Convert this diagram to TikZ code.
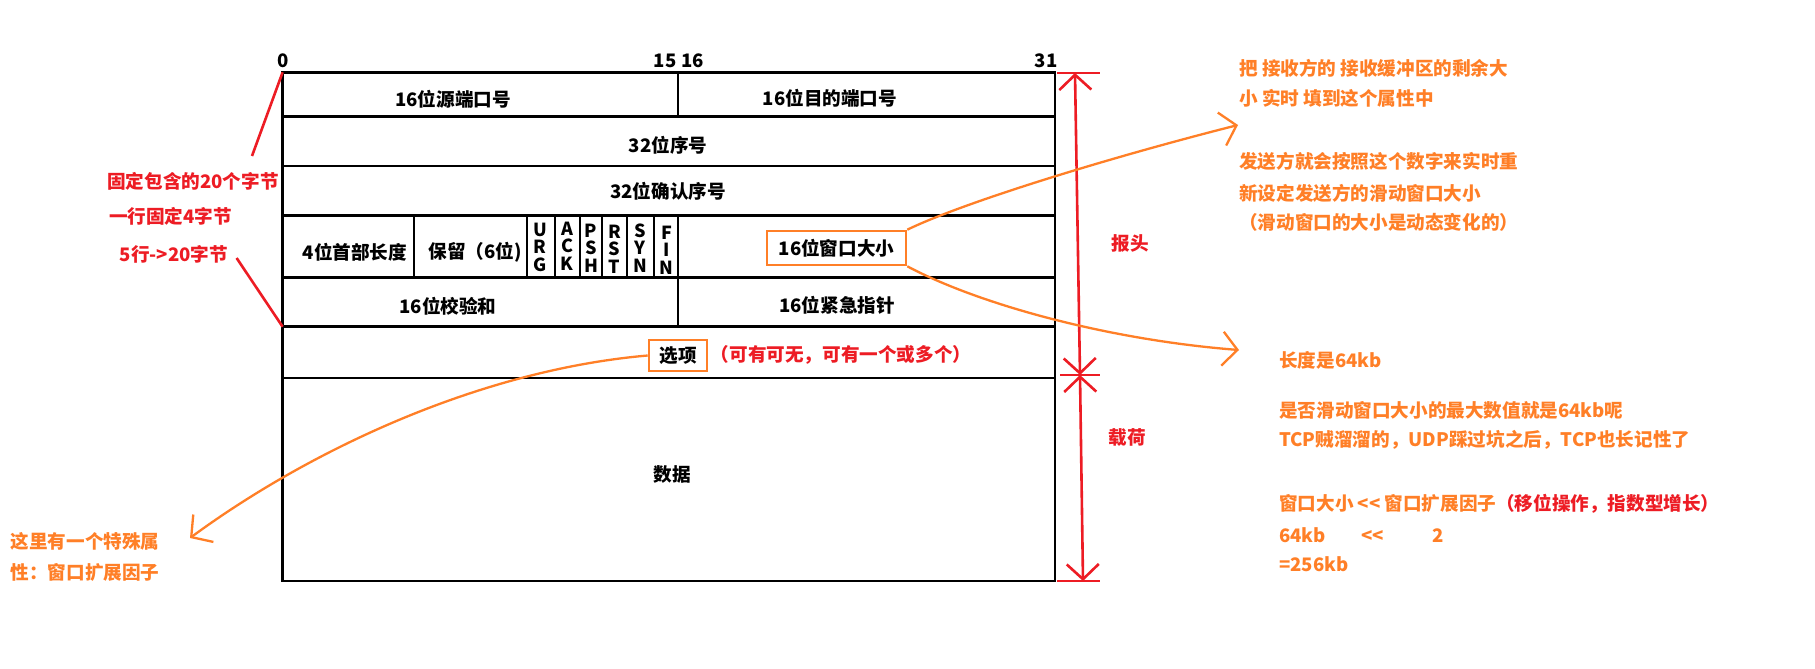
\documentclass[tikz,border=0pt]{standalone}
\usepackage{fontspec}
\setmainfont{Noto Sans CJK SC}
\usetikzlibrary{arrows.meta}
\definecolor{pred}{HTML}{ED1C24}
\definecolor{porange}{HTML}{FF7F27}
\newcommand\myfs{\fontsize{18.6}{22}\selectfont}
\newcommand\myflagfs{\fontsize{18}{17.5}\selectfont}
\begin{document}
\begin{tikzpicture}[x=1pt,y=-1pt,
  tline/.style={line width=2.6pt, black},
  txt/.style={font=\myfs\bfseries, inner sep=0pt, black},
  rtxt/.style={txt, text=pred},
  otxt/.style={txt, text=porange},
  flagtxt/.style={font=\myflagfs\bfseries, inner sep=0pt, align=center},
  obox/.style={draw=porange, line width=2.6pt},
  redline/.style={draw=pred, line width=2.6pt},
  barb/.style={Straight Barb[length=15pt,width=32pt]},
  redarrow/.style={redline, {Straight Barb[length=15pt,width=32pt]}-{Straight Barb[length=15pt,width=32pt]}},
  oarrow/.style={draw=porange, line width=2.3pt, -{Straight Barb[length=15pt,width=34pt]}}
]
\useasboundingbox[fill=white] (0,0) rectangle (1815,669);

% ---------- table ----------
\coordinate (tl) at (282.6,72.3);
\coordinate (br) at (1055,581);
\coordinate (hbl) at (282.6,326.7);
\draw[tline] (tl) rectangle (br);
\foreach \y in {116.7,166,215.7,277.3,326.7,378}
  \draw[tline] (282.6,\y) -- (1055,\y);
\draw[tline] (678,72.3) -- (678,116.7);
\draw[tline] (678,215.7) -- (678,326.7);
\foreach \x in {414,527,555,580,602,627,654}
  \draw[tline] (\x,215.7) -- (\x,277.3);

% bit numbers
\node[txt] (b0) at (283.5,61) {0};
\node[txt] (b15) at (665,61) {15};
\node[txt] (b16) at (692.5,61) {16};
\node[txt] (b31) at (1046,61) {31};

% cell texts
\node[txt] (srcport) at (453,99) {16位源端口号};
\node[txt] (dstport) at (830,98) {16位目的端口号};
\node[txt] (seq) at (668,145) {32位序号};
\node[txt] (ackno) at (668,191.5) {32位确认序号};
\node[txt] (hlen) at (355,252) {4位首部长度};
\node[txt] (rsv) at (475,252) {保留（6位)};
\node[flagtxt] (urg) at (540,247) {U\\R\\G};
\node[flagtxt] (ackf) at (567,246) {A\\C\\K};
\node[flagtxt] (psh) at (591,248) {P\\S\\H};
\node[flagtxt] (rst) at (614.5,249) {R\\S\\T};
\node[flagtxt] (syn) at (640,248) {S\\Y\\N};
\node[flagtxt] (fin) at (666.5,250) {F\\I\\N};
\node[txt, obox, minimum width=139pt, minimum height=34pt] (win) at (836.5,248) {16位窗口大小};
\node[txt] (chk) at (448,306.5) {16位校验和};
\node[txt] (urgp) at (837,305.5) {16位紧急指针};
\node[txt, obox, minimum width=58pt, minimum height=31pt] (opt) at (678,355.5) {选项};
\node[rtxt] (optnote) at (841,355) {（可有可无，可有一个或多个）};
\node[txt] (data) at (672,474) {数据};

% ---------- left annotations ----------
\node[rtxt] (fix20) at (193,181) {固定包含的20个字节};
\node[rtxt] (row4) at (170.5,216) {一行固定4字节};
\node[rtxt] (row5) at (174,254) {5行->20字节};
\coordinate (l1s) at (252,156);
\coordinate (l2s) at (236.6,258);
\draw[redline] (l1s) -- (tl);
\draw[redline] (l2s) -- (hbl);

\node[otxt, anchor=west] (sp1) at (10.5,541) {这里有一个特殊属};
\node[otxt, anchor=west] (sp2) at (10.5,572) {性：窗口扩展因子};
\coordinate (tipL) at (190,538);
\draw[oarrow] (opt.west) .. controls (480,370) and (310,450) .. (tipL);

% ---------- right brackets ----------
\coordinate (a1) at (1075,73);
\coordinate (a2) at (1080,375);
\coordinate (a3) at (1083,581);
\draw[redarrow] (a1) -- (a2);
\draw[redarrow] (a2) -- (a3);
\draw[redline] ([xshift=-18pt]a1) -- ([xshift=25pt]a1);
\draw[redline] ([xshift=-20pt]a2) -- ([xshift=20pt]a2);
\draw[redline] ([xshift=-26pt]a3) -- ([xshift=17pt]a3);
\node[rtxt] (hdr) at (1130,243) {报头};
\node[rtxt] (load) at (1127,438) {载荷};

% ---------- right annotations ----------
\node[otxt, anchor=west] (r1) at (1239,68.3) {把 接收方的 接收缓冲区的剩余大};
\node[otxt, anchor=west] (r2) at (1239,98.3) {小 实时 填到这个属性中};
\node[otxt, anchor=west] (r3) at (1239,161.7) {发送方就会按照这个数字来实时重};
\node[otxt, anchor=west] (r4) at (1239,193.3) {新设定发送方的滑动窗口大小};
\node[otxt, anchor=west] (r5) at (1239,222.7) {（滑动窗口的大小是动态变化的）};

\node[otxt, anchor=west] (s1) at (1279,360) {长度是64kb};
\node[otxt, anchor=west] (s2) at (1279,410) {是否滑动窗口大小的最大数值就是64kb呢};
\node[otxt, anchor=west] (s3) at (1279,440) {TCP贼溜溜的，UDP踩过坑之后，TCP也长记性了};
\node[otxt, anchor=west] (s4) at (1279,504) {窗口大小 <{}< 窗口扩展因子{\color{pred}（移位操作，指数型增长）}};
\node[otxt, anchor=west] (s5) at (1279,535) {\makebox[82pt][l]{64kb}\makebox[71pt][l]{<{}<}2};
\node[otxt, anchor=west] (s6) at (1279,564) {=256kb};

\coordinate (tip2) at (1238,125);
\coordinate (tip3) at (1239,350);
\draw[oarrow] (win.north east) .. controls (960,204) and (1100,160) .. (tip2);
\draw[oarrow] (win.south east) .. controls (980,305) and (1110,340) .. (tip3);
\end{tikzpicture}
\end{document}
